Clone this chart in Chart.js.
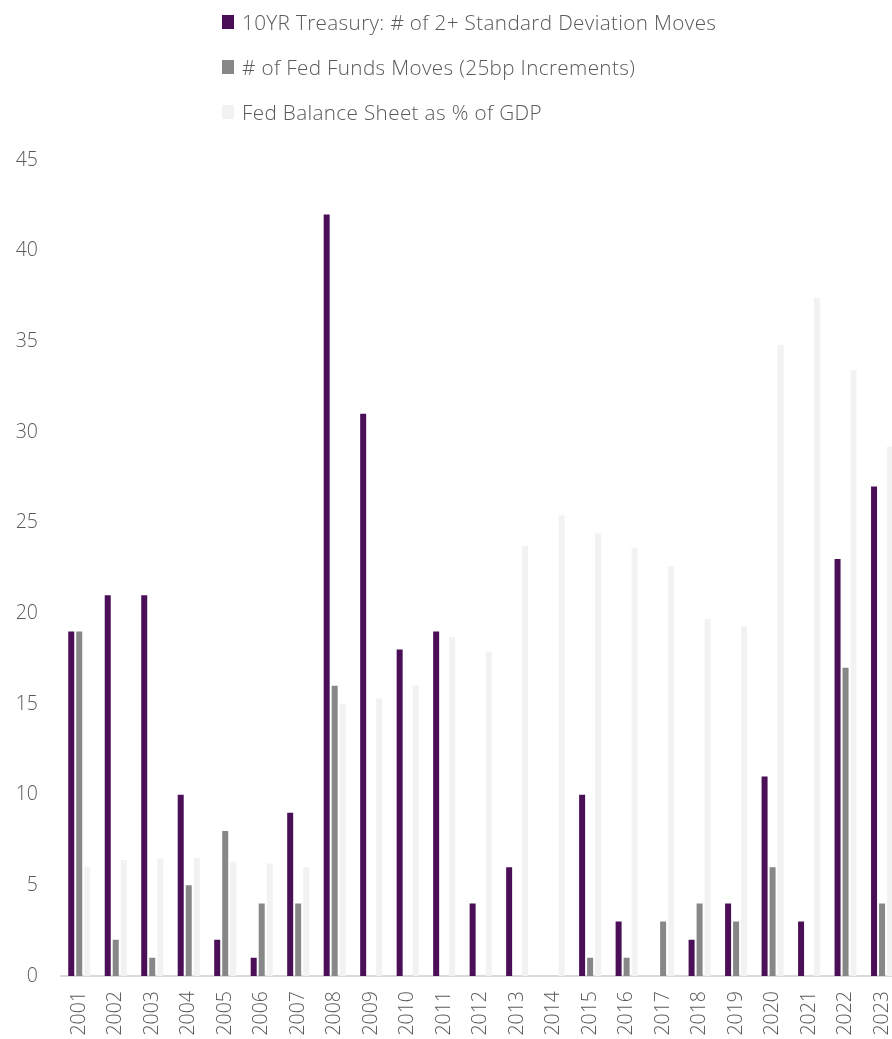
<!DOCTYPE html>
<html>
<head>
<meta charset="utf-8">
<script src="https://cdn.jsdelivr.net/npm/chart.js@4/dist/chart.umd.min.js"></script>
<style>
  html, body { margin: 0; padding: 0; background: #fff; overflow: hidden; width: 892px; height: 1039px; }
  #wrap { position: absolute; left: 0; top: 0; width: 905px; height: 1039px; }
  #legend { position: absolute; left: 222px; top: 0; margin: 0; padding: 0; list-style: none;
            font-family: "Open Sans", sans-serif; font-weight: 300; font-size: 20.7px; letter-spacing: 0.35px; color: #595959; }
  #legend li { position: absolute; left: 0; white-space: nowrap; display: flex; align-items: center; height: 28px; }
  #legend .sw { display: inline-block; width: 12px; height: 14px; margin-right: 8px; }
</style>
</head>
<body>
<div id="wrap"><canvas id="c" width="905" height="1039"></canvas></div>
<ul id="legend"></ul>
<script>
// Years on the category axis
const years = ['2001','2002','2003','2004','2005','2006','2007','2008','2009','2010','2011','2012',
               '2013','2014','2015','2016','2017','2018','2019','2020','2021','2022','2023'];

// 10YR Treasury: number of 2+ standard deviation moves per year
const treasuryMoves = [19, 21, 21, 10, 2, 1, 9, 42, 31, 18, 19, 4, 6, 0, 10, 3, 0, 2, 4, 11, 3, 23, 27];

// Number of Fed Funds moves, in 25bp increments
const fedFundsMoves = [19, 2, 1, 5, 8, 4, 4, 16, 0, 0, 0, 0, 0, 0, 1, 1, 3, 4, 3, 6, 0, 17, 4];

// Fed balance sheet as a percentage of GDP
const balanceSheetPct = [6.0, 6.4, 6.5, 6.5, 6.3, 6.2, 6.0, 15.0, 15.3, 16.0, 18.7, 17.9,
                         23.7, 25.4, 24.4, 23.6, 22.6, 19.7, 19.3, 34.8, 37.4, 33.4, 29.2];

const seriesNames = ['10YR Treasury: # of 2+ Standard Deviation Moves',
                     '# of Fed Funds Moves (25bp Increments)',
                     'Fed Balance Sheet as % of GDP'];
const seriesColors = ['#4b0f58', '#878787', '#f2f2f2'];

const tickFont = { family: '"Open Sans", sans-serif', size: 19.5, weight: '300' };

const chart = new Chart(document.getElementById('c'), {
  type: 'bar',
  data: {
    labels: years,
    datasets: [treasuryMoves, fedFundsMoves, balanceSheetPct].map((d, i) => ({
      label: seriesNames[i],
      data: d,
      backgroundColor: seriesColors[i],
      borderWidth: 0,
      barPercentage: 0.75,
      categoryPercentage: 0.658
    }))
  },
  options: {
    responsive: false,
    animation: false,
    events: [],
    layout: { padding: { top: 160, left: 0, right: 4.7, bottom: 0 } },
    plugins: { legend: { display: false }, tooltip: { enabled: false } },
    scales: {
      x: {
        grid: { display: false, drawTicks: false },
        border: { display: true, color: '#d9d9d9', width: 2 },
        ticks: { color: '#595959', font: tickFont, minRotation: 90, maxRotation: 90, padding: 15, autoSkip: false },
        afterFit: s => { s.height = 1039 - 976; s.paddingLeft = 0; s.paddingRight = 0; }
      },
      y: {
        min: 0, max: 45,
        grid: { display: false, drawTicks: false },
        border: { display: false },
        ticks: { stepSize: 5, color: '#595959', font: tickFont, padding: 23 },
        afterFit: s => { s.width = 61; }
      }
    }
  }
});

// Legend list built from the chart's datasets
const legend = document.getElementById('legend');
const rowCenters = [22, 67, 112];
chart.data.datasets.forEach((ds, i) => {
  const li = document.createElement('li');
  li.style.top = (rowCenters[i] - 14) + 'px';
  const sw = document.createElement('span');
  sw.className = 'sw';
  sw.style.background = ds.backgroundColor;
  li.appendChild(sw);
  li.appendChild(document.createTextNode(ds.label));
  legend.appendChild(li);
});
</script>
</body>
</html>
